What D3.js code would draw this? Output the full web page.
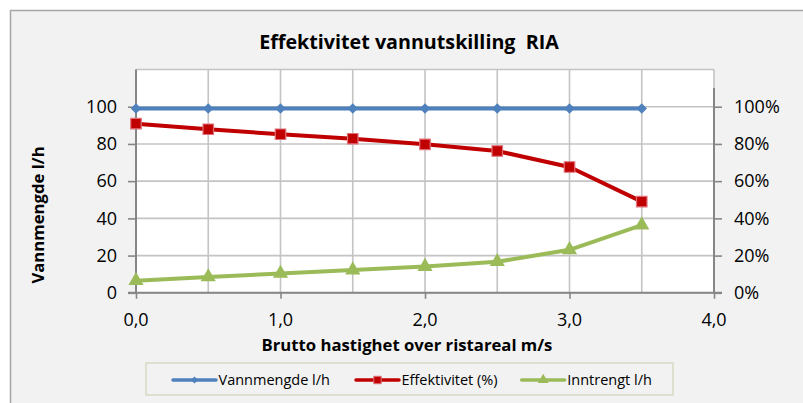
<!DOCTYPE html>
<html>
<head>
<meta charset="utf-8">
<script src="https://cdn.jsdelivr.net/npm/d3@7"></script>
<style>
	body{margin:0;background:#fff;}
	text{font-family:"Open Sans", sans-serif;fill:#000;}
	.tick-label{font-size:18px;}
	.axis-title{font-size:16.7px;font-weight:bold;}
	.legend-text{font-size:14.5px;}
</style>
</head>
<body>
<div id="chart"></div>
<script>
// data
var hastighet = [0.0, 0.5, 1.0, 1.5, 2.0, 2.5, 3.0, 3.5];
var vannmengde = [99, 99, 99, 99, 99, 99, 99, 99];
var effektivitet = [0.909, 0.879, 0.852, 0.828, 0.798, 0.762, 0.676, 0.490];
var inntrengt = [6.5, 8.5, 10.4, 12.2, 14.1, 16.7, 23.1, 36.4];
var leftTicks = [0, 20, 40, 60, 80, 100];
var rightTicks = [0, 0.2, 0.4, 0.6, 0.8, 1.0];
var xTicks = [0, 1, 2, 3, 4];
var xGrid = [0, 0.5, 1, 1.5, 2, 2.5, 3, 3.5, 4];
var seriesNames = ["Vannmengde l/h", "Effektivitet (%)", "Inntrengt l/h"];

var width = 803, height = 403;
var plot = {left:136, right:714, top:69.5, bottom:292.8};

var svg = d3.select('#chart').append('svg')
	.attr('width', width).attr('height', height);

// chart area background
svg.append('rect').attr('x',10.5).attr('y',10.5)
	.attr('width',900).attr('height',500)
	.attr('fill','#f2f2f2').attr('stroke','#a6a6a6').attr('stroke-width',1.5);

var x = d3.scaleLinear().domain([0,4]).range([plot.left, plot.right]);
var yL = d3.scaleLinear().domain([0,120]).range([plot.bottom, plot.top]);
var yR = d3.scaleLinear().domain([0,1.2]).range([plot.bottom, plot.top]);

svg.append('rect')
	.attr('x',plot.left).attr('y',plot.top)
	.attr('width',plot.right-plot.left).attr('height',plot.bottom-plot.top)
	.attr('fill','#fff');

// gridlines
var grid = svg.append('g').attr('stroke','#c4c4c4').attr('stroke-width',1.6);
grid.selectAll('.hgrid').data(leftTicks.concat([120])).enter()
	.append('line').attr('class','hgrid')
	.attr('x1',plot.left).attr('x2',plot.right)
	.attr('y1',function(d){return yL(d);})
	.attr('y2',function(d){return yL(d);});
grid.selectAll('.vgrid').data(xGrid).enter()
	.append('line').attr('class','vgrid')
	.attr('x1',function(d){return x(d);}).attr('x2',function(d){return x(d);})
	.attr('y1',plot.top).attr('y2',plot.bottom);

// axes
var axisColor = '#868686';
var gLeft = svg.append('g').attr('transform','translate('+plot.left+',0)')
	.call(d3.axisLeft(yL).tickValues(leftTicks).tickSize(8).tickFormat(''));
var gRight = svg.append('g').attr('transform','translate('+plot.right+',0)')
	.call(d3.axisRight(yR).tickValues(rightTicks).tickSize(8).tickFormat(''));
var gBottom = svg.append('g').attr('transform','translate(0,'+plot.bottom+')')
	.call(d3.axisBottom(x).tickValues(xTicks).tickSize(6).tickFormat(''));

[gLeft, gRight, gBottom].forEach(function(g){
	g.select('.domain').remove();
	g.selectAll('line').attr('stroke',axisColor).attr('stroke-width',1.6);
});
// axis lines drawn by hand so the right one stops at 110 %
svg.append('line').attr('x1',plot.left).attr('x2',plot.left)
	.attr('y1',plot.top).attr('y2',plot.bottom)
	.attr('stroke',axisColor).attr('stroke-width',2);
svg.append('line').attr('x1',plot.right).attr('x2',plot.right)
	.attr('y1',yR(1.1)).attr('y2',plot.bottom)
	.attr('stroke',axisColor).attr('stroke-width',2);
svg.append('line').attr('x1',plot.left-8).attr('x2',plot.right+8)
	.attr('y1',plot.bottom).attr('y2',plot.bottom)
	.attr('stroke',axisColor).attr('stroke-width',2);

// tick labels
svg.selectAll('.lt').data(leftTicks).enter().append('text')
	.attr('class','tick-label').attr('text-anchor','end')
	.attr('x',117).attr('y',function(d){return yL(d);}).attr('dy','0.35em')
	.text(function(d){return d;});
svg.selectAll('.rt').data(rightTicks).enter().append('text')
	.attr('class','tick-label').attr('text-anchor','start')
	.attr('x',734).attr('y',function(d){return yR(d);}).attr('dy','0.35em')
	.text(function(d){return d3.format('.0%')(d);});
svg.selectAll('.bt').data(xTicks).enter().append('text')
	.attr('class','tick-label').attr('text-anchor','middle')
	.attr('x',function(d){return x(d);}).attr('y',325.5)
	.text(function(d){return d3.format('.1f')(d).replace('.',',');});

// titles
svg.append('text').attr('class','axis-title')
	.attr('x',409).attr('y',49.3).attr('text-anchor','middle')
	.style('font-size','19.7px').style('white-space','pre')
	.text('Effektivitet vannutskilling  RIA');
svg.append('text').attr('class','axis-title')
	.attr('x',407).attr('y',350.5).attr('text-anchor','middle')
	.text('Brutto hastighet over ristareal m/s');
svg.append('text').attr('class','axis-title')
	.attr('transform','translate(43.5,215) rotate(-90)')
	.attr('text-anchor','middle')
	.text('Vannmengde l/h');

// series
var series = [
	{name:seriesNames[0], values:vannmengde, y:yL, color:'#4f81bd', symbol:d3.symbolSquare, size:55, rotate:45, mfill:'#4f81bd', mstroke:'none'},
	{name:seriesNames[1], values:effektivitet, y:yR, color:'#c00000', symbol:d3.symbolSquare, size:110, rotate:0, mfill:'#c00000', mstroke:'#e0707a'},
	{name:seriesNames[2], values:inntrengt, y:yL, color:'#9bbb59', symbol:d3.symbolTriangle, size:100, rotate:0, mfill:'#9bbb59', mstroke:'none'}
];

var line = function(s){
	return d3.line()
		.x(function(d,i){return x(hastighet[i]);})
		.y(function(d){return s.y(d);})(s.values);
};

series.forEach(function(s){
	svg.append('path').attr('d',line(s))
		.attr('fill','none').attr('stroke',s.color)
		.attr('stroke-width',4).attr('stroke-linejoin','round');
	svg.selectAll(null).data(s.values).enter().append('path')
		.attr('d',d3.symbol().type(s.symbol).size(s.size))
		.attr('transform',function(d,i){
			return 'translate('+x(hastighet[i])+','+s.y(d)+') rotate('+s.rotate+')';
		})
		.attr('fill',s.mfill).attr('stroke',s.mstroke).attr('stroke-width',1.2);
});

// legend
var legend = svg.append('g');
legend.append('rect').attr('x',146).attr('y',363).attr('width',527).attr('height',32)
	.attr('fill','#f2f2f2').attr('stroke','#d9d9c3').attr('stroke-width',1.5);
var legendX = [173, 356, 521.7];
var legendSize = [26, 55, 50];
series.forEach(function(s,i){
	var g = legend.append('g').attr('transform','translate('+legendX[i]+',380)');
	g.append('line').attr('x1',0).attr('x2',43).attr('y1',0).attr('y2',0)
		.attr('stroke',s.color).attr('stroke-width',3.5).attr('stroke-linecap','round');
	g.append('path').attr('d',d3.symbol().type(s.symbol).size(legendSize[i]))
		.attr('transform','translate(21.5,0) rotate('+s.rotate+')')
		.attr('fill',s.mfill).attr('stroke',s.mstroke).attr('stroke-width',1);
	g.append('text').attr('class','legend-text')
		.attr('x',45.5).attr('y',0).attr('dy','0.35em')
		.text(s.name);
});
</script>
</body>
</html>
